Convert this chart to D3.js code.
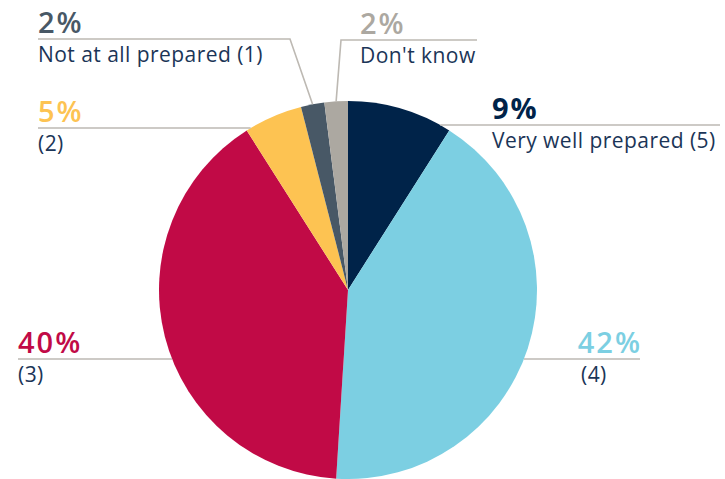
<!DOCTYPE html>
<html><head><meta charset="utf-8">
<script src="https://cdn.jsdelivr.net/npm/d3@7"></script>
<style>html,body{margin:0;padding:0;background:#fff;}svg{display:block;}</style>
</head><body>
<svg id="c" width="725" height="479"></svg>
<script>
const categories = ["Very well prepared (5)", "(4)", "(3)", "(2)", "Not at all prepared (1)", "Don't know"];
const values = [9, 42, 40, 5, 2, 2];
const pctLabels = ["9%", "42%", "40%", "5%", "2%", "2%"];
const colors = ["#002349", "#7ccfe2", "#c10a46", "#fdc352", "#485866", "#aca8a1"];
const pctColors = ["#002349", "#7ccfe2", "#c10a46", "#fdc352", "#485866", "#aca8a1"];

const W = 725, H = 479, cx = 348, cy = 290, R = 189;
const svg = d3.select("#c");
const g = svg.append("g").attr("transform", `translate(${cx},${cy})`);

const pie = d3.pie().sort(null).value(d => d)(values);
const arc = d3.arc().innerRadius(0).outerRadius(R);
g.selectAll("path").data(pie).enter().append("path")
  .attr("d", arc).attr("fill", (d, i) => colors[i]);

const layout = [
  {tx: 492, ly: 125, lx2: 720, side: "right", type: "h"},
  {tx: 581, ly: 359, lx2: 640, side: "right", type: "h", pctRight: 640},
  {tx: 18, ly: 359, lx2: 18, side: "left", type: "h"},
  {tx: 38, ly: 128, lx2: 38, side: "left", type: "h"},
  {tx: 38, ly: 39, lx2: 38, elbowX: 290, side: "left", type: "elbow"},
  {tx: 360, ly: 40, lx2: 477, elbowX: 341, side: "right", type: "elbow"}
];

const lineColor = "#bdb9b3";
const font = "'Open Sans', sans-serif";
layout.forEach((L, i) => {
  let pts;
  if (L.type === "h") {
    const dy = L.ly - cy;
    const dx = Math.sqrt(R * R - dy * dy);
    const ex = L.side === "right" ? cx + dx : cx - dx;
    pts = [[ex, L.ly], [L.lx2, L.ly]];
  } else {
    const a = (pie[i].startAngle + pie[i].endAngle) / 2;
    const px = cx + R * Math.sin(a), py = cy - R * Math.cos(a);
    pts = [[px, py], [L.elbowX, L.ly], [L.lx2, L.ly]];
  }
  svg.append("path").attr("d", d3.line()(pts))
    .attr("fill", "none").attr("stroke", lineColor).attr("stroke-width", 1.6);

  const pct = svg.append("text")
    .attr("y", L.ly - 6)
    .attr("font-family", font).attr("font-weight", i === 0 ? 700 : 600).attr("font-size", 29)
    .attr("letter-spacing", 2)
    .attr("fill", pctColors[i]).text(pctLabels[i]);
  if (L.pctRight) pct.attr("x", L.pctRight + 2).attr("text-anchor", "end");
  else pct.attr("x", L.tx);

  svg.append("text")
    .attr("x", L.tx).attr("y", L.ly + 23)
    .attr("font-family", font).attr("font-weight", 400).attr("font-size", 21)
    .attr("letter-spacing", 0.45)
    .attr("fill", "#1b3557").text(categories[i]);
});
</script>
</body></html>
